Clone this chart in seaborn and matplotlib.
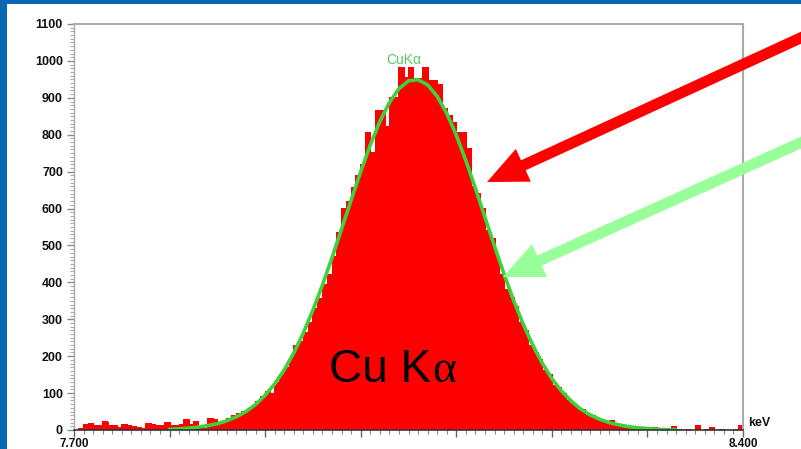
import numpy as np
import pandas as pd
import matplotlib
matplotlib.use("Agg")
import matplotlib.pyplot as plt
import seaborn as sns
from matplotlib.patches import Rectangle, FancyArrow
from matplotlib.transforms import IdentityTransform
from matplotlib.ticker import MultipleLocator, FixedLocator, FuncFormatter

# ---------------- data ----------------
bin_start = 7.700   # keV
bin_width = 0.005   # keV
counts = [
    0, 3, 15, 18, 12, 12, 22, 13, 11, 6, 14, 12, 9, 8, 3, 17, 15, 12, 13, 20,
    11, 13, 15, 28, 15, 24, 5, 4,
    30, 28, 18, 22, 30, 40, 45, 50, 55, 60, 78, 90, 105, 100, 130, 150, 170, 195, 230, 240,
    265, 290, 330, 355, 395, 420, 470, 534, 600, 620, 656, 690,
    720, 805, 753, 867, 867, 821, 902, 902, 981, 954, 981, 951, 951, 981, 948, 948, 935, 872,
    853, 832, 805, 805, 764,
    660, 640, 600, 540, 520, 470, 420, 380, 360, 335, 290, 270, 230, 210, 190, 160, 150, 120,
    115, 100, 80, 70, 58, 55, 40, 38, 30,
    25, 22, 25, 12, 10, 8, 6, 5, 8, 5, 4, 8, 3, 2, 3, 9, 1, 0, 2, 0, 11, 0, 2, 6, 0, 1, 0, 0, 2, 11,
]

fit_energy = [7.80, 7.81, 7.82, 7.83, 7.84, 7.85, 7.86, 7.87, 7.88, 7.89,
              7.90, 7.91, 7.92, 7.93, 7.94, 7.95, 7.96, 7.97, 7.98, 7.99,
              8.00, 8.01, 8.02, 8.03, 8.04, 8.05, 8.06, 8.07, 8.08, 8.09,
              8.10, 8.11, 8.12, 8.13, 8.14, 8.15, 8.16, 8.17, 8.18, 8.19,
              8.20, 8.21, 8.22, 8.23, 8.24, 8.25, 8.26, 8.27, 8.28, 8.29,
              8.30, 8.31, 8.32, 8.33]
fit_counts = [2, 3, 5, 8, 12, 17, 25, 36, 50, 69,
              94, 125, 163, 209, 263, 325, 393, 467, 545, 623,
              700, 772, 836, 887, 925, 946, 949, 935, 904, 858,
              799, 730, 655, 576, 498, 422, 351, 287, 230, 181,
              139, 106, 79, 57, 41, 29, 20, 14, 9, 6,
              4, 2, 1, 1]

y_ticks = [0, 100, 200, 300, 400, 500, 600, 700, 800, 900, 1000, 1100]
x_end_labels = {7.7: "7.700", 8.4: "8.400"}
peak_label = "CuK\u03b1"
unit_label = "keV"

# ---------------- figure ----------------
sns.set_theme(style="white")
plt.rcParams["font.family"] = ["Liberation Sans", "DejaVu Sans"]

W, H = 801, 449
fig = plt.figure(figsize=(W / 100, H / 100), dpi=100)
fig.patch.set_facecolor("#0866b2")
fig.add_artist(Rectangle((7 / W, 0), (W - 7) / W, (H - 4) / H, transform=fig.transFigure,
                         facecolor="white", edgecolor="none", zorder=-5))

ax = fig.add_axes([74 / W, (H - 430) / H, (743 - 74) / W, (430 - 24) / H])
ax.set_facecolor("white")

n = len(counts)
centers = bin_start + bin_width * (np.arange(n) + 0.5)
df = pd.DataFrame({"energy": centers, "counts": counts})
sns.histplot(data=df, x="energy", weights="counts", bins=n,
             binrange=(bin_start, bin_start + bin_width * n), stat="count",
             color="#ff0000", alpha=1.0, linewidth=0, ax=ax)
# close hairline gaps between adjacent bars
for p in ax.patches:
    p.set_snap(False)
    p.set_antialiased(False)
    p.set_width(p.get_width() * 1.12)

fit_df = pd.DataFrame({"energy": fit_energy, "counts": fit_counts})
sns.lineplot(data=fit_df, x="energy", y="counts", color="#3cd23c", linewidth=2.6, ax=ax)

ax.set_xlim(7.7, 8.4)
ax.set_ylim(0, 1100)
ax.set_xlabel("")
ax.set_ylabel("")

# y axis ticks
ax.yaxis.set_major_locator(FixedLocator(y_ticks))
ax.yaxis.set_minor_locator(MultipleLocator(10))
ax.tick_params(axis="y", which="major", direction="out", length=5, width=1, color="#8a8a8a",
               pad=3, labelsize=9, labelcolor="#111111", left=True)
ax.tick_params(axis="y", which="minor", direction="out", length=3, width=0.8, color="#aaaaaa", left=True)
for lab in ax.get_yticklabels():
    lab.set_fontweight("bold")

# x axis ticks
ax.xaxis.set_major_locator(FixedLocator(np.round(np.arange(7.7, 8.41, 0.1), 3)))
ax.xaxis.set_minor_locator(MultipleLocator(0.01))
ax.xaxis.set_major_formatter(FuncFormatter(lambda v, p: x_end_labels.get(round(v, 3), "")))
ax.tick_params(axis="x", which="major", direction="out", length=5, width=1, color="#666666",
               pad=0.5, labelsize=8.5, labelcolor="#111111", bottom=True)
ax.tick_params(axis="x", which="minor", direction="out", length=3, width=0.8, color="#888888", bottom=True)
for lab in ax.get_xticklabels():
    lab.set_fontweight("bold")

for side in ["top", "right", "left"]:
    ax.spines[side].set_visible(True)
    ax.spines[side].set_color("#aaaaaa")
    ax.spines[side].set_linewidth(1.5)
ax.spines["left"].set_linewidth(1.0)
ax.spines["bottom"].set_color("#333333")
ax.spines["bottom"].set_linewidth(1.2)

# labels
ax.text(8.045, 1003, peak_label, color="#55cc66", fontsize=10, ha="center", va="center")
ax.text(8.0735, 130, "Cu K", fontsize=33, color="black", ha="right", va="baseline",
        family=["Liberation Sans", "DejaVu Sans"])
ax.text(8.0745, 130, "\u03b1", fontsize=33, color="black", ha="left", va="baseline",
        family=["Liberation Serif", "DejaVu Serif"])
fig.text(748 / W, 1 - 423 / H, unit_label, fontsize=9, fontweight="bold", color="#111111",
         ha="left", va="center")

# arrows (display pixels)
fig.add_artist(FancyArrow(820, H - 29, -333, -153, width=11, head_width=36, head_length=40,
                          length_includes_head=True, transform=IdentityTransform(),
                          color="#ff0000", linewidth=0, zorder=5))
fig.add_artist(FancyArrow(820, H - 134, -317, -143, width=11, head_width=36, head_length=40,
                          length_includes_head=True, transform=IdentityTransform(),
                          color="#99ff99", linewidth=0, zorder=5))

fig.savefig("out.png", dpi=100)
